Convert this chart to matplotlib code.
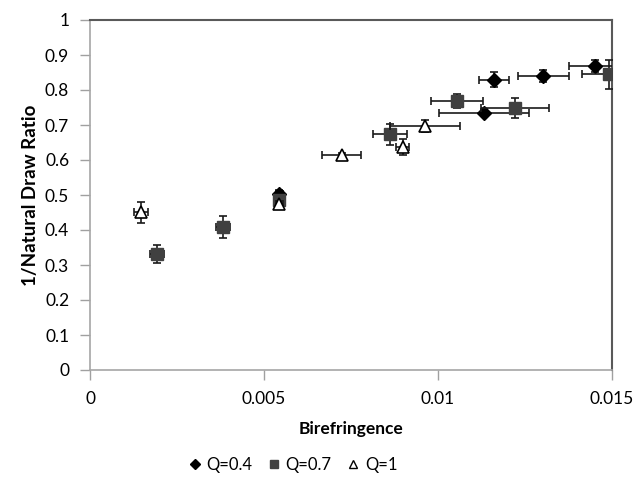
import matplotlib
matplotlib.use("Agg")
import matplotlib.pyplot as plt
from matplotlib.lines import Line2D

plt.rcParams['font.family'] = ['Lato', 'DejaVu Sans']

# Q=0.4 (diamonds)
q04_x = [0.00544, 0.01132, 0.01161, 0.01302, 0.01452]
q04_y = [0.503, 0.735, 0.830, 0.840, 0.869]
q04_xerr = [0.0001, 0.0013, 0.00043, 0.00073, 0.00075]
q04_yerr = [0.012, 0.010, 0.021, 0.017, 0.017]

# Q=0.7 (squares)
q07_x = [0.00192, 0.00383, 0.00544, 0.00862, 0.01054, 0.01221, 0.01492]
q07_y = [0.332, 0.408, 0.485, 0.673, 0.769, 0.749, 0.845]
q07_xerr = [0.0002, 0.0002, 0.0001, 0.00049, 0.00075, 0.00097, 0.00077]
q07_yerr = [0.025, 0.031, 0.010, 0.029, 0.020, 0.028, 0.042]

# Q=1 (triangles)
q1_x = [0.00147, 0.00544, 0.00723, 0.00898, 0.00963]
q1_y = [0.451, 0.473, 0.614, 0.638, 0.697]
q1_xerr = [0.0002, 0.0001, 0.00055, 0.0002, 0.0010]
q1_yerr = [0.030, 0.010, 0.006, 0.023, 0.018]

labels = ["Q=0.4", "Q=0.7", "Q=1"]
x_ticks = [0, 0.005, 0.01, 0.015]
x_ticklabels = ["0", "0.005", "0.01", "0.015"]
y_ticks = [0, 0.1, 0.2, 0.3, 0.4, 0.5, 0.6, 0.7, 0.8, 0.9, 1]
y_ticklabels = ["0", "0.1", "0.2", "0.3", "0.4", "0.5", "0.6", "0.7", "0.8", "0.9", "1"]

fig = plt.figure(figsize=(6.41, 4.79), dpi=100)
ax = fig.add_axes([90/641, 1-370/479, (612-90)/641, (370-20)/479])

ebkw = dict(ecolor='#1a1a1a', elinewidth=1.2, capsize=3, capthick=1.2, linestyle='none')

ax.errorbar(q04_x, q04_y, xerr=q04_xerr, yerr=q04_yerr, marker='D', markersize=7,
            markerfacecolor='black', markeredgecolor='black', zorder=3, **ebkw)
ax.errorbar(q07_x, q07_y, xerr=q07_xerr, yerr=q07_yerr, marker='s', markersize=9,
            markerfacecolor='#404040', markeredgecolor='#404040', zorder=4, **ebkw)
ax.errorbar(q1_x, q1_y, xerr=q1_xerr, yerr=q1_yerr, marker='^', markersize=8.5,
            markerfacecolor='white', markeredgecolor='black', markeredgewidth=1.2, zorder=5, **ebkw)

ax.set_xlim(0, 0.015)
ax.set_ylim(0, 1)
ax.set_xticks(x_ticks)
ax.set_xticklabels(x_ticklabels)
ax.set_yticks(y_ticks)
ax.set_yticklabels(y_ticklabels)
ax.tick_params(axis='both', direction='out', length=7, width=1, color='#a0a0a0',
               labelsize=12.5, labelcolor='black', pad=8)

for s in ['left', 'bottom']:
    ax.spines[s].set_color('#a6a6a6')
    ax.spines[s].set_linewidth(1.2)
for s in ['top', 'right']:
    ax.spines[s].set_color('#595959')
    ax.spines[s].set_linewidth(1.5)

ax.set_xlabel("Birefringence", fontsize=12.5, fontweight='bold', labelpad=10)
ax.set_ylabel("1/Natural Draw Ratio", fontsize=13.5, fontweight='bold', labelpad=4)

handles = [
    Line2D([], [], marker='D', markersize=5, color='black', linestyle='none'),
    Line2D([], [], marker='s', markersize=6, color='#404040', linestyle='none'),
    Line2D([], [], marker='^', markersize=6, markerfacecolor='white',
           markeredgecolor='black', markeredgewidth=1.0, linestyle='none'),
]
fig.legend(handles, labels, loc='center', bbox_to_anchor=(292/641, 1-465/479),
           ncol=3, frameon=False, fontsize=12, handletextpad=0.2, columnspacing=0.8,
           handlelength=1.0)

fig.savefig("out.png", dpi=100)
